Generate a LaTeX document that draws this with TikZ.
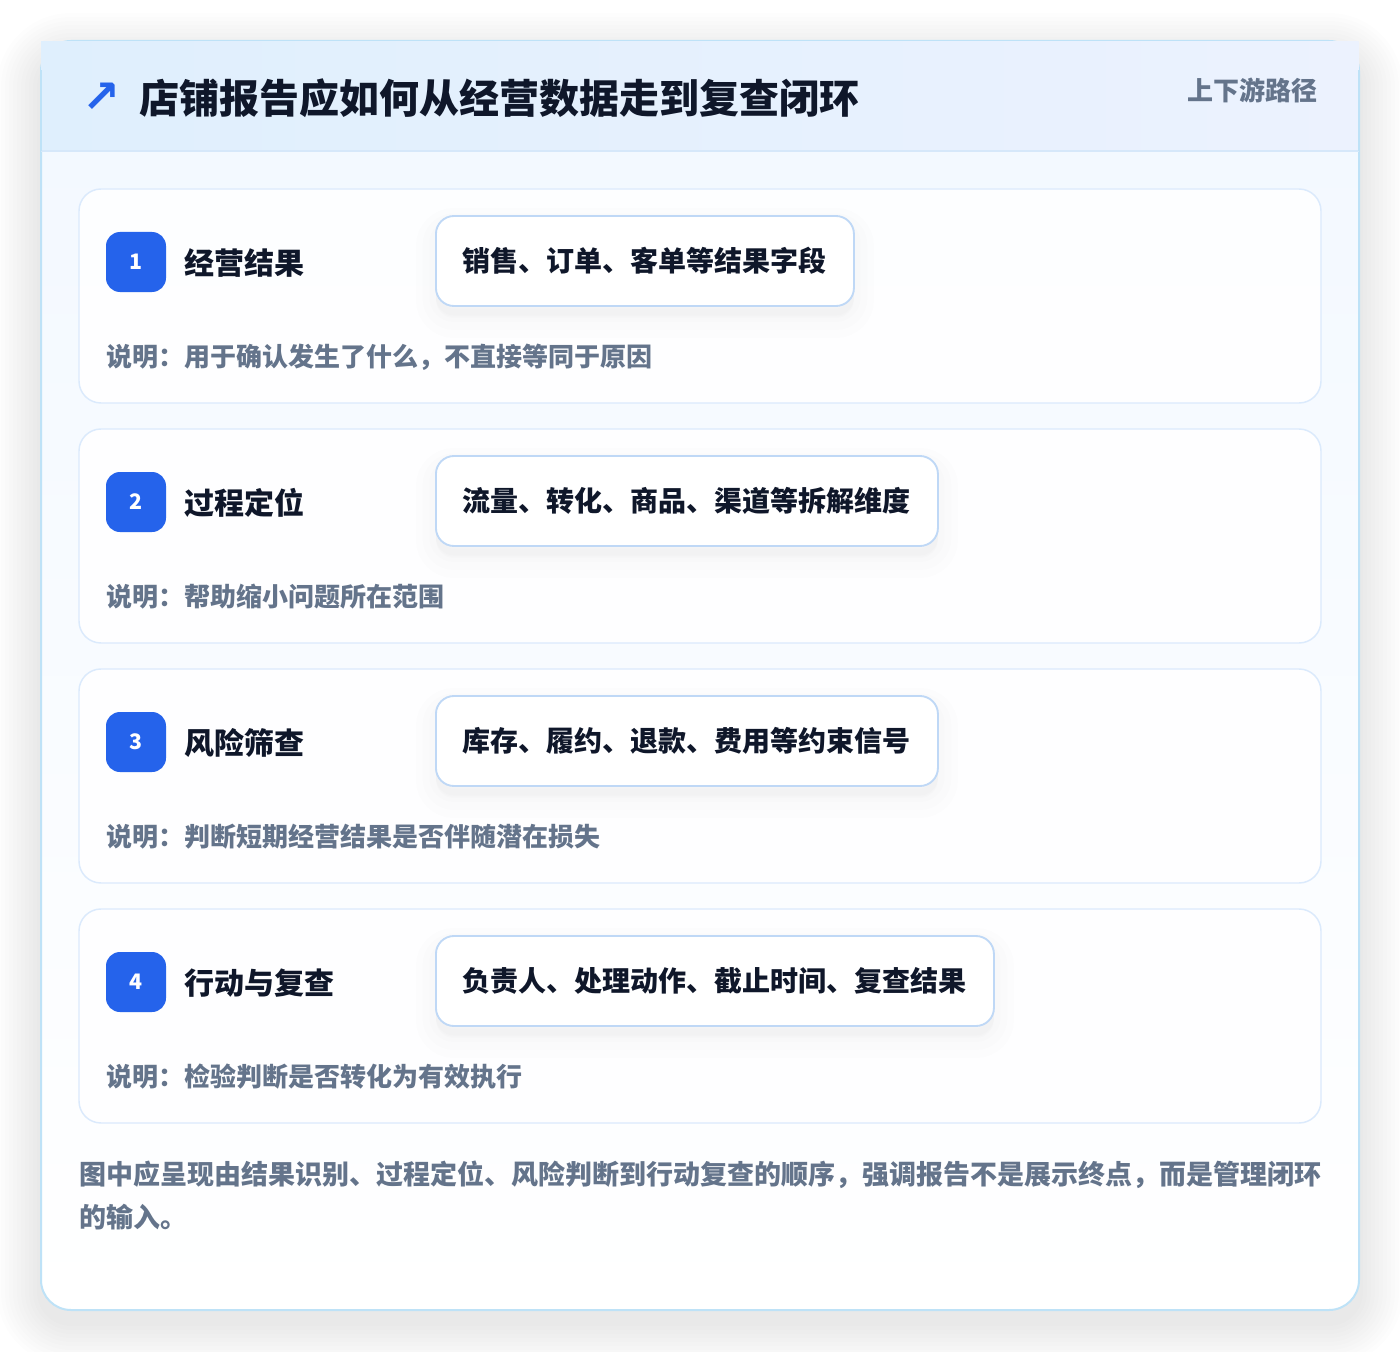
\documentclass[tikz,border=0pt]{standalone}
\usepackage{fontspec}
\setmainfont{Noto Sans CJK SC}
\newfontfamily\symfont{DejaVu Sans}
\usepackage{tikz}
\usetikzlibrary{calc}
\definecolor{brandblue}{RGB}{37,99,235}
\definecolor{ink}{RGB}{15,23,42}
\definecolor{slate}{RGB}{100,116,139}
\definecolor{outeredge}{RGB}{190,226,247}
\definecolor{cardedge}{RGB}{219,234,252}
\definecolor{pilledge}{RGB}{191,216,246}
\definecolor{headleft}{RGB}{223,239,253}
\definecolor{headright}{RGB}{236,242,254}
\definecolor{headline}{RGB}{214,232,250}
\definecolor{bodytop}{RGB}{242,248,255}
\tikzset{
  cardline/.style={draw=cardedge, line width=1.1pt, fill=white, fill opacity=0.9, rounded corners=16.5pt},
  badge/.style={fill=brandblue, text=white, rounded corners=10.5pt, minimum size=45pt, inner sep=0pt,
                font=\bfseries\fontsize{16}{16}\selectfont},
  steptitle/.style={text=ink, inner sep=0pt, font=\bfseries\fontsize{22.5}{22.5}\selectfont},
  pill/.style={draw=pilledge, line width=1.4pt, fill=white, rounded corners=13.5pt, minimum height=67.5pt,
               inner xsep=20.25pt, inner ysep=0pt, text=ink, font=\bfseries\fontsize{21}{21}\selectfont,
               preaction={draw=black, fill=black, opacity=0.006, line width=30pt, transform canvas={yshift=-9pt}},
               preaction={draw=black, fill=black, opacity=0.006, line width=20pt, transform canvas={yshift=-8pt}},
               preaction={draw=black, fill=black, opacity=0.006, line width=10pt, transform canvas={yshift=-7pt}}},
  stepdesc/.style={text=slate, inner sep=0pt, font=\bfseries\fontsize{19.5}{19.5}\selectfont},
}
% one step card: top y, number, title, fields, note
\newcommand{\stepcard}[5]{
  \path[cardline] (79, #1) rectangle (1321, #1 + 214);
  \node[badge] (badge#2) at (136, #1 + 73) {#2};
  \node[steptitle, anchor=west] (title#2) at (184, #1 + 74) {#3};
  \node[pill, anchor=west] (pill#2) at (435, #1 + 72) {#4};
  \node[stepdesc, anchor=west] (desc#2) at (106, #1 + 168) {说明：#5};
}

\begin{document}
\begin{tikzpicture}[x=0.75pt, y=-0.75pt]
  \useasboundingbox (0,0) rectangle (1400,1352);
  \fill[white] (0,0) rectangle (1400,1352);

  % soft shadow of the panel
  \foreach \s in {44,40,...,4}
    \fill[black, opacity=0.0065, rounded corners=22.5pt+\s*0.75pt]
      (41-\s, 41-\s+16) rectangle (1359+\s, 1310+\s+12);

  % outer panel
  \path[rounded corners=22.5pt, top color=bodytop, bottom color=white] (41,41) rectangle (1359,1310);
  \draw[outeredge, line width=1.5pt, rounded corners=22.5pt] (41,41) rectangle (1359,1310);
  \path[left color=headleft, right color=headright] (41,42) rectangle (1358.5,151);
  \draw[headline, line width=1.2pt] (41,151) -- (1359,151);
  \draw[outeredge, line width=1.5pt] (41,151) -- (41,70);
  \draw[outeredge, line width=1.5pt] (1359,151) -- (1359,70);

  % header
  \node[text=brandblue, inner sep=0pt, font=\symfont\bfseries\fontsize{34}{34}\selectfont] (icon) at (101, 98) {↗};
  \node[text=ink, inner sep=0pt, anchor=west, font=\bfseries\fontsize{30}{30}\selectfont] (heading) at (139, 98)
    {店铺报告应如何从经营数据走到复查闭环};
  \node[text=slate, inner sep=0pt, anchor=east, font=\bfseries\fontsize{19.5}{19.5}\selectfont] (tag) at (1318, 90)
    {上下游路径};

  % steps
  \stepcard{189}{1}{经营结果}{销售、订单、客单等结果字段}{用于确认发生了什么，不直接等同于原因}
  \stepcard{429}{2}{过程定位}{流量、转化、商品、渠道等拆解维度}{帮助缩小问题所在范围}
  \stepcard{669}{3}{风险筛查}{库存、履约、退款、费用等约束信号}{判断短期经营结果是否伴随潜在损失}
  \stepcard{909}{4}{行动与复查}{负责人、处理动作、截止时间、复查结果}{检验判断是否转化为有效执行}

  % footer note
  \node[text=slate, inner sep=0pt, anchor=west, font=\bfseries\fontsize{20.25}{20.25}\selectfont] (foot1) at (79, 1175)
    {图中应呈现由结果识别、过程定位、风险判断到行动复查的顺序，强调报告不是展示终点，而是管理闭环};
  \node[text=slate, inner sep=0pt, anchor=west, font=\bfseries\fontsize{20.25}{20.25}\selectfont] (foot2) at (79, 1217)
    {的输入。};
\end{tikzpicture}
\end{document}
